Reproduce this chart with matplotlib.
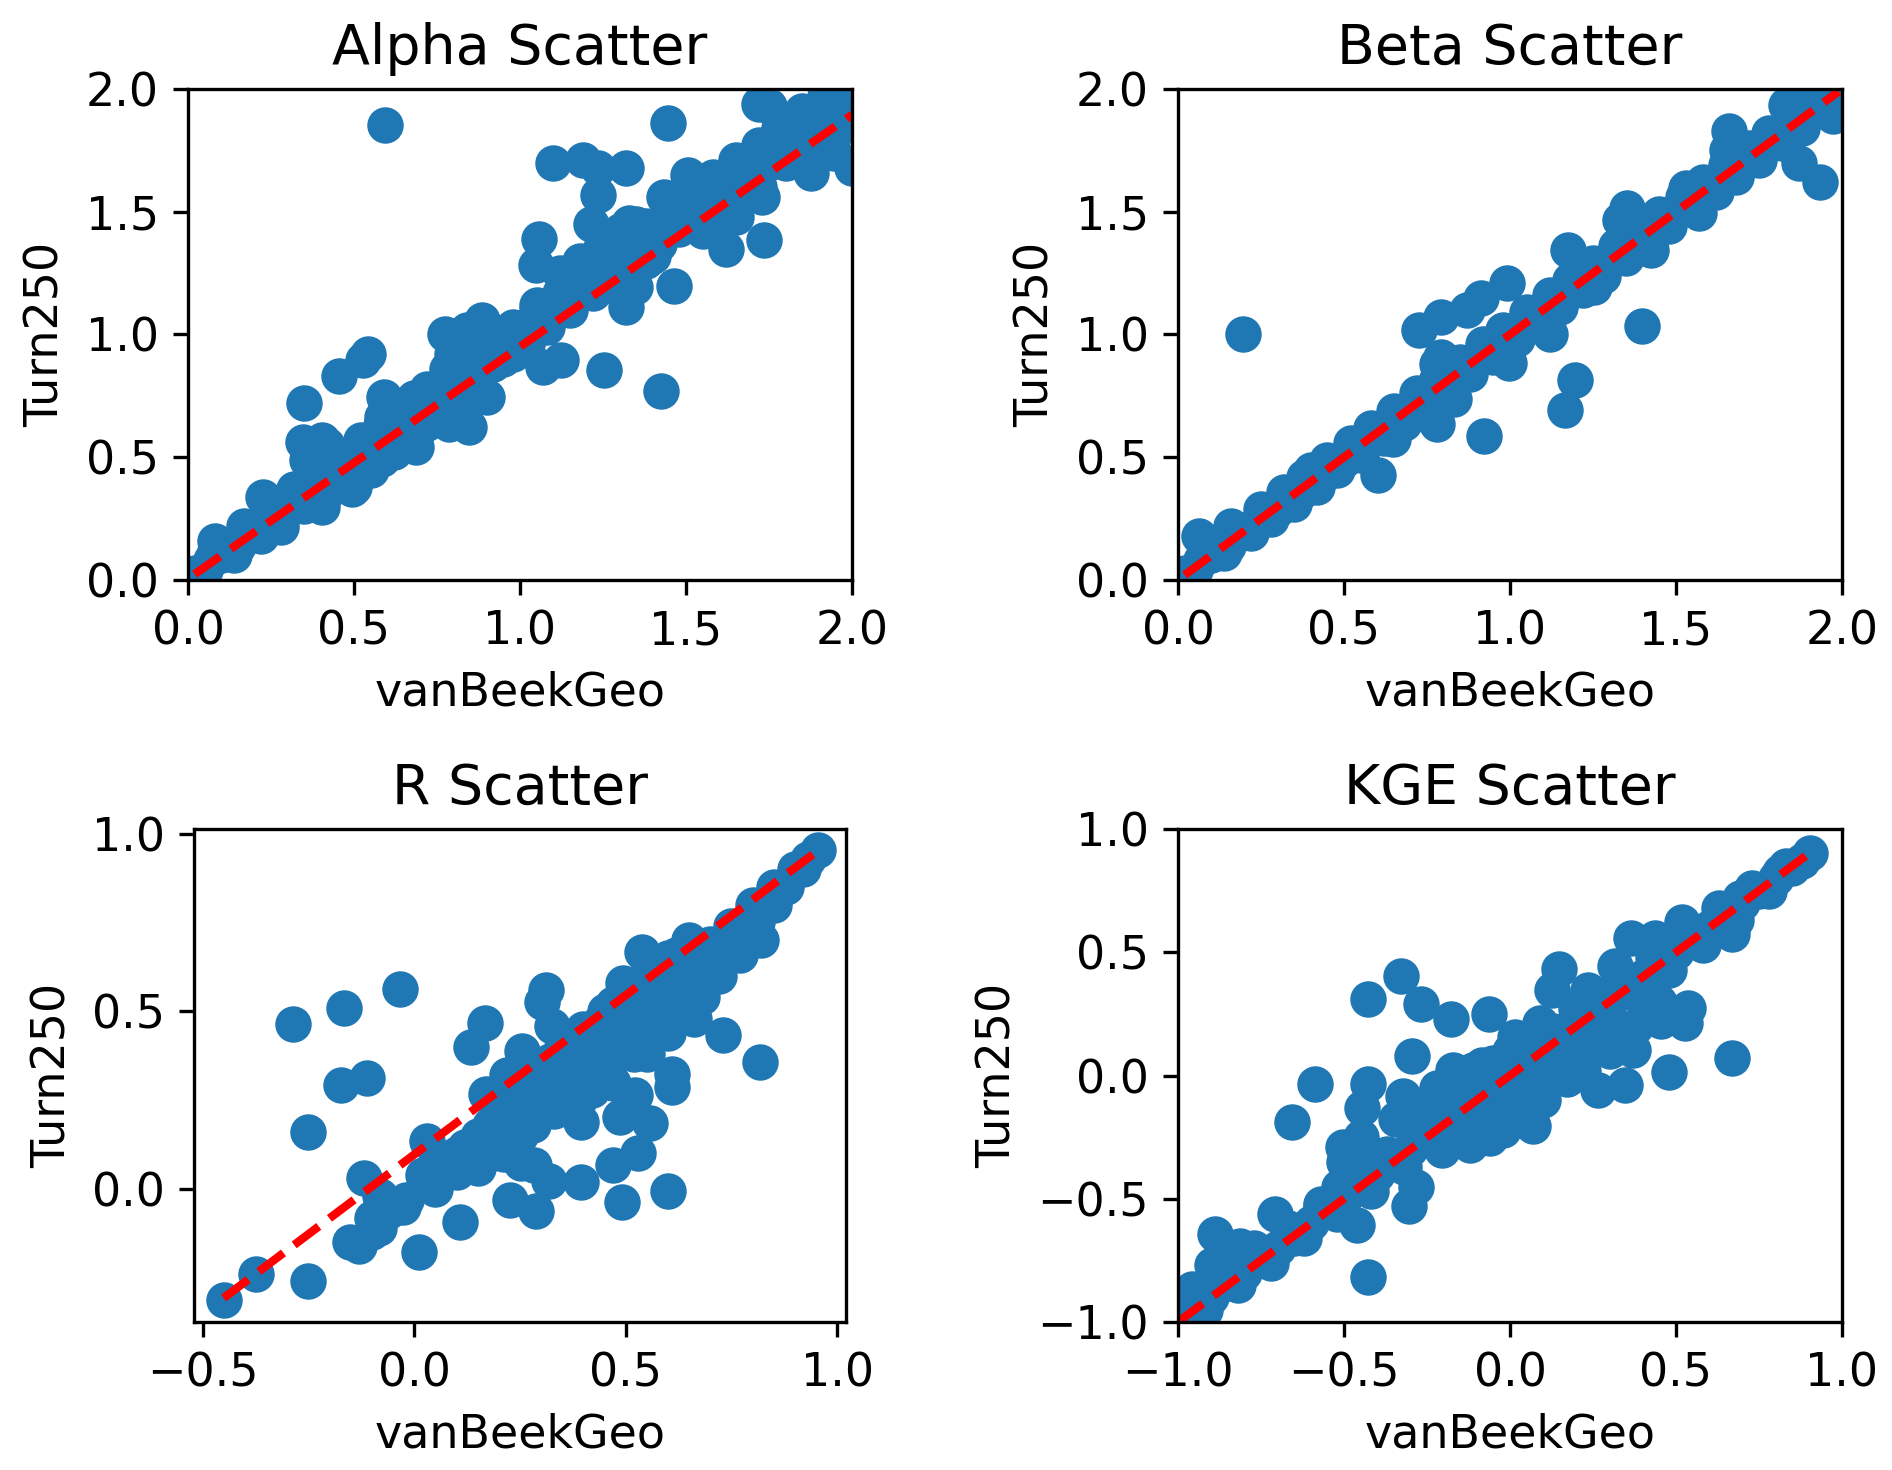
import numpy as np
import matplotlib
matplotlib.use("Agg")
import matplotlib.pyplot as plt

# ---- data ----
alpha_x = [0.02, 0.05, 0.07, 0.10, 0.12, 0.15, 0.18, 0.20, 0.23, 0.26, 0.30, 0.33, 0.37, 0.40, 0.43,
           0.46, 0.50, 0.53, 0.56, 0.60, 0.63, 0.66, 0.70, 0.73, 0.76, 0.80, 0.83, 0.86, 0.90, 0.93,
           0.96, 1.00, 1.03, 1.06, 1.10, 1.13, 1.16, 1.20, 1.23, 1.26, 1.30, 1.33, 1.36, 1.40, 1.43,
           1.46, 1.50, 1.53, 1.56, 1.60, 1.63, 1.66, 1.70, 1.73, 1.76, 1.80, 1.83, 1.86, 1.90, 1.93,
           1.96, 1.99,
           0.593, 1.446, 1.72, 1.75, 1.10, 1.19, 1.235, 1.32, 1.235, 1.215, 1.506, 1.433, 1.328, 1.736,
           1.62, 1.73, 1.875, 1.947, 2.0, 1.057, 1.047, 1.463, 1.32, 1.24, 1.347, 1.252, 1.426, 1.123,
           1.07, 0.775, 0.886, 0.794, 0.90, 0.846, 0.787, 0.543, 0.528, 0.454, 0.35, 0.345, 0.405,
           0.359, 0.493, 0.688, 0.589, 0.583, 0.583, 0.28, 0.227, 0.405, 0.082,
           0.82, 0.85, 0.88, 0.80, 0.78, 0.84, 0.92, 0.68, 0.72, 0.65, 0.70, 0.75, 0.55, 0.48, 0.50,
           1.05, 1.15, 1.20, 1.25, 1.30, 1.35, 1.38, 1.60, 1.55, 1.65, 1.70, 1.85, 1.90, 1.95, 1.28,
           0.38, 0.42, 0.62, 0.98, 1.02]
alpha_y = [0.03, 0.04, 0.08, 0.10, 0.13, 0.14, 0.19, 0.20, 0.22, 0.27, 0.29, 0.34, 0.36, 0.41, 0.42,
           0.47, 0.49, 0.54, 0.55, 0.61, 0.62, 0.67, 0.70, 0.74, 0.75, 0.81, 0.82, 0.87, 0.90, 0.94,
           0.95, 1.01, 1.02, 1.07, 1.10, 1.14, 1.15, 1.21, 1.22, 1.27, 1.30, 1.34, 1.35, 1.41, 1.42,
           1.47, 1.50, 1.54, 1.55, 1.61, 1.62, 1.67, 1.70, 1.74, 1.75, 1.81, 1.82, 1.87, 1.90, 1.94,
           1.95, 1.99,
           1.852, 1.861, 1.94, 1.93, 1.70, 1.71, 1.68, 1.68, 1.57, 1.45, 1.65, 1.56, 1.453, 1.385,
           1.35, 1.56, 1.657, 1.74, 1.68, 1.388, 1.283, 1.199, 1.113, 1.344, 1.195, 0.854, 0.769, 0.895,
           0.868, 1.004, 1.058, 0.922, 0.746, 0.623, 0.637, 0.922, 0.895, 0.83, 0.721, 0.562, 0.569,
           0.487, 0.371, 0.541, 0.746, 0.664, 0.494, 0.215, 0.337, 0.297, 0.16,
           0.95, 0.98, 1.00, 0.90, 0.86, 0.72, 0.96, 0.74, 0.78, 0.60, 0.62, 0.70, 0.45, 0.40, 0.38,
           1.12, 1.22, 1.25, 1.29, 1.36, 1.40, 1.30, 1.45, 1.42, 1.52, 1.62, 1.80, 1.85, 1.90, 1.32,
           0.50, 0.55, 0.70, 0.92, 0.96]
alpha_x2 = [0.04, 0.08, 0.14, 0.17, 0.22, 0.25, 0.28, 0.32, 0.35, 0.38, 0.42, 0.45, 0.48, 0.52, 0.55,
            0.58, 0.62, 0.65, 0.68, 0.72, 0.75, 0.78, 0.82, 0.85, 0.88, 0.92, 0.95, 0.98, 1.02, 1.05,
            1.08, 1.12, 1.15, 1.18, 1.22, 1.25, 1.28, 1.32, 1.35, 1.38, 1.42, 1.45, 1.48, 1.52, 1.55,
            1.58, 1.62, 1.65, 1.68, 1.72, 1.75, 1.78, 1.82, 1.85, 1.88, 1.92, 1.95, 1.98,
            0.80, 0.84, 0.88, 0.90, 0.86, 0.82, 0.92, 0.60, 0.62, 0.66, 0.70, 0.72, 0.38, 0.42, 0.40,
            1.12, 1.18, 1.25, 1.30, 1.35, 1.27, 1.33, 1.40, 1.55, 1.60, 1.65, 1.72, 1.80, 1.90, 1.95]
alpha_y2 = [0.00, 0.12, 0.10, 0.22, 0.18, 0.30, 0.24, 0.37, 0.30, 0.44, 0.36, 0.50, 0.44, 0.57, 0.50,
            0.63, 0.57, 0.70, 0.63, 0.77, 0.68, 0.82, 0.77, 0.90, 0.83, 0.97, 0.90, 1.03, 0.97, 1.10,
            1.03, 1.17, 1.10, 1.24, 1.17, 1.30, 1.24, 1.37, 1.30, 1.44, 1.37, 1.51, 1.43, 1.57, 1.50,
            1.64, 1.57, 1.71, 1.63, 1.77, 1.70, 1.84, 1.77, 1.91, 1.84, 1.97, 1.90, 2.02,
            0.98, 1.02, 0.96, 1.00, 0.93, 0.88, 0.88, 0.70, 0.52, 0.56, 0.66, 0.64, 0.50, 0.52, 0.46,
            1.25, 1.30, 1.38, 1.42, 1.45, 1.20, 1.28, 1.32, 1.45, 1.52, 1.48, 1.60, 1.70, 1.75, 1.82]

beta_x = [0.02, 0.05, 0.07, 0.10, 0.12, 0.15, 0.18, 0.20, 0.23, 0.26, 0.30, 0.33, 0.37, 0.40, 0.43,
          0.46, 0.50, 0.53, 0.56, 0.60, 0.63, 0.66, 0.70, 0.73, 0.76, 0.80, 0.83, 0.86, 0.90, 0.93,
          0.96, 1.00, 1.03, 1.06, 1.10, 1.13, 1.16, 1.20, 1.23, 1.26, 1.30, 1.33, 1.36, 1.40, 1.43,
          1.46, 1.50, 1.53, 1.56, 1.60, 1.63, 1.66, 1.70, 1.73, 1.76, 1.80, 1.83, 1.86, 1.90, 1.93,
          1.96, 1.99,
          0.197, 0.726, 0.792, 0.871, 0.913, 0.992, 1.174, 1.351, 1.33, 1.397, 1.197, 1.167, 0.921,
          0.601, 0.062, 1.66, 1.654, 1.934, 1.871, 1.832, 1.974, 0.792, 0.996, 1.121, 0.779, 0.832,
          0.647, 1.424, 1.568, 1.529, 1.253, 1.739, 0.13, 0.16, 0.40, 0.55, 0.78, 0.82, 1.85, 1.88]
beta_y = [0.03, 0.04, 0.08, 0.10, 0.13, 0.14, 0.19, 0.20, 0.22, 0.27, 0.29, 0.34, 0.36, 0.41, 0.42,
          0.47, 0.49, 0.54, 0.55, 0.61, 0.62, 0.67, 0.70, 0.74, 0.75, 0.81, 0.82, 0.87, 0.90, 0.94,
          0.95, 1.01, 1.02, 1.07, 1.10, 1.14, 1.15, 1.21, 1.22, 1.27, 1.30, 1.34, 1.35, 1.41, 1.42,
          1.47, 1.50, 1.54, 1.55, 1.61, 1.62, 1.67, 1.70, 1.74, 1.75, 1.81, 1.82, 1.87, 1.90, 1.94,
          1.95, 1.99,
          1.004, 1.018, 1.072, 1.10, 1.147, 1.208, 1.344, 1.514, 1.467, 1.034, 0.814, 0.694, 0.586,
          0.426, 0.181, 1.827, 1.752, 1.623, 1.698, 1.936, 1.888, 0.909, 0.882, 1.004, 0.637, 0.739,
          0.576, 1.344, 1.494, 1.596, 1.195, 1.737, 0.16, 0.22, 0.45, 0.52, 0.88, 0.84, 1.93, 1.92]
beta_x2 = [0.04, 0.08, 0.14, 0.17, 0.22, 0.25, 0.28, 0.32, 0.35, 0.38, 0.42, 0.45, 0.48, 0.52, 0.55,
           0.58, 0.62, 0.65, 0.68, 0.72, 0.75, 0.78, 0.82, 0.85, 0.88, 0.92, 0.95, 0.98, 1.02, 1.05,
           1.08, 1.12, 1.15, 1.18, 1.22, 1.25, 1.28, 1.32, 1.35, 1.38, 1.42, 1.45, 1.48, 1.52, 1.55,
           1.58, 1.62, 1.65, 1.68, 1.72, 1.75, 1.78, 1.82, 1.85, 1.88, 1.92, 1.95, 1.98]
beta_y2 = [0.00, 0.11, 0.11, 0.21, 0.19, 0.29, 0.25, 0.36, 0.31, 0.42, 0.38, 0.49, 0.45, 0.56, 0.51,
           0.62, 0.58, 0.69, 0.64, 0.76, 0.71, 0.82, 0.78, 0.89, 0.84, 0.96, 0.91, 1.02, 0.98, 1.09,
           1.04, 1.16, 1.11, 1.22, 1.18, 1.29, 1.24, 1.36, 1.31, 1.42, 1.38, 1.49, 1.44, 1.56, 1.51,
           1.62, 1.58, 1.69, 1.64, 1.76, 1.71, 1.82, 1.78, 1.89, 1.84, 1.96, 1.91, 1.97]

r_x = [0.02, 0.06, 0.10, 0.15, 0.20, 0.25, 0.30, 0.35, 0.40, 0.45, 0.50, 0.55, 0.60, 0.65, 0.70,
       0.75, 0.80, 0.85, 0.90, 0.93,
       0.40, 0.45, 0.50, 0.55, 0.60, 0.65, 0.70, 0.62, 0.52, 0.35, 0.30, 0.25, 0.20, 0.15, 0.10,
       0.05, -0.05, -0.10, -0.08, 0.75, 0.80, 0.85, 0.82, 0.45, 0.50, 0.55, 0.60, 0.65, 0.42, 0.38,
       -0.286, -0.167, -0.033, -0.174, -0.111, -0.251, -0.451, -0.375, -0.251, 0.011, 0.107, 0.226,
       0.289, 0.395, 0.491, 0.599, 0.47, 0.529, 0.318, 0.283, 0.817, 0.73, 0.662, 0.61, 0.61, 0.557,
       0.522, 0.487, 0.395, 0.388, 0.304, 0.252, 0.213, 0.135, 0.168, 0.311, 0.301, 0.539, 0.494,
       -0.118, -0.153, -0.083, -0.026, 0.030, 0.17, 0.22, 0.255, 0.325, 0.789, 0.81, 0.955]
r_y = [0.04, 0.06, 0.10, 0.15, 0.20, 0.26, 0.30, 0.35, 0.40, 0.45, 0.50, 0.55, 0.60, 0.64, 0.69,
       0.74, 0.80, 0.85, 0.90, 0.93,
       0.30, 0.35, 0.40, 0.45, 0.50, 0.55, 0.60, 0.62, 0.38, 0.28, 0.22, 0.15, 0.13, 0.10, 0.05,
       0.00, -0.05, -0.08, -0.02, 0.68, 0.75, 0.80, 0.70, 0.50, 0.55, 0.60, 0.65, 0.70, 0.33, 0.25,
       0.464, 0.509, 0.562, 0.292, 0.312, 0.160, -0.311, -0.238, -0.258, -0.177, -0.093, -0.029,
       -0.06, 0.02, -0.036, -0.005, 0.067, 0.103, 0.024, 0.067, 0.358, 0.434, 0.48, 0.324, 0.288, 0.187,
       0.266, 0.202, 0.189, 0.245, 0.216, 0.073, 0.099, 0.401, 0.467, 0.56, 0.526, 0.668, 0.579,
       0.033, -0.148, -0.108, -0.049, 0.136, 0.269, 0.321, 0.388, 0.46, 0.731, 0.751, 0.954]
r_x2 = [0.22, 0.25, 0.28, 0.30, 0.33, 0.35, 0.38, 0.40, 0.42, 0.45, 0.48, 0.50, 0.52, 0.55, 0.58,
        0.60, 0.63, 0.65, 0.68, 0.70, 0.72, 0.75, 0.78, 0.85, 0.88, 0.92, 0.30, 0.35, 0.40, 0.28,
        0.25, 0.18, 0.12, 0.08, 0.03, -0.02, -0.06, -0.10, -0.13, 0.15, 0.18, 0.20, 0.32, 0.37,
        0.44, 0.47, 0.53, 0.57, 0.62, 0.47, 0.55, 0.60, 0.65, 0.68, 0.72, 0.77, 0.80]
r_y2 = [0.12, 0.20, 0.18, 0.25, 0.22, 0.32, 0.30, 0.35, 0.28, 0.40, 0.38, 0.45, 0.42, 0.50, 0.48,
        0.55, 0.52, 0.60, 0.58, 0.63, 0.68, 0.70, 0.72, 0.82, 0.85, 0.90, 0.35, 0.40, 0.45, 0.30,
        0.30, 0.18, 0.12, 0.08, 0.02, -0.03, -0.06, -0.12, -0.16, 0.06, 0.10, 0.16, 0.36, 0.42,
        0.47, 0.52, 0.58, 0.62, 0.66, 0.30, 0.38, 0.44, 0.50, 0.54, 0.60, 0.66, 0.70]

kge_x = [-1.0, -0.95, -0.90, -0.85, -0.80, -0.75, -0.70, -0.65, -0.60, -0.55, -0.50, -0.45, -0.40,
         -0.35, -0.30, -0.25, -0.20, -0.15, -0.10, -0.05, 0.0, 0.05, 0.10, 0.15, 0.20, 0.25, 0.30,
         0.35, 0.40, 0.45, 0.50, 0.55, 0.60, 0.65, 0.70, 0.75, 0.80, 0.85,
         -0.20, -0.15, -0.10, -0.05, 0.0, 0.05, -0.25, 0.10, 0.05, 0.0, -0.05,
         -0.328, -0.429, -0.268, -0.177, -0.063, 0.149, -0.296, -0.588, -0.429, -0.446, -0.656,
         -0.323, -0.342, -0.502, -0.283, -0.305, -0.707, -0.89, -0.899, -0.812, -0.429, -0.958,
         -0.936, 0.669, 0.478, 0.537, 0.528, 0.455, 0.369, 0.345, 0.266, 0.171, 0.363, 0.436, 0.317,
         0.519, 0.669, 0.665, 0.693, 0.812, 0.903, 0.07, 0.098, 0.005, -0.059, -0.149, -0.204,
         -0.112, 0.015, 0.089, 0.198, 0.235, 0.126, -0.085, -0.171, -0.515, -0.57, -0.46, -0.424,
         -0.369, 0.125, 0.217]
kge_y = [-1.0, -0.93, -0.90, -0.84, -0.80, -0.74, -0.70, -0.66, -0.60, -0.54, -0.50, -0.44, -0.40,
         -0.35, -0.30, -0.25, -0.20, -0.16, -0.10, -0.05, 0.0, 0.05, 0.10, 0.15, 0.20, 0.25, 0.30,
         0.35, 0.40, 0.44, 0.50, 0.55, 0.60, 0.64, 0.70, 0.75, 0.80, 0.84,
         -0.10, -0.05, -0.20, -0.15, -0.10, -0.05, -0.15, 0.0, 0.12, 0.10, 0.05,
         0.405, 0.309, 0.29, 0.229, 0.248, 0.433, 0.08, -0.034, -0.034, -0.13, -0.187,
         -0.082, -0.177, -0.292, -0.454, -0.531, -0.563, -0.645, -0.769, -0.693, -0.817, -0.865,
         -0.96, 0.071, 0.013, 0.275, 0.214, 0.223, 0.103, -0.038, -0.057, -0.015, 0.557, 0.557, 0.443,
         0.624, 0.576, 0.653, 0.719, 0.824, 0.901, -0.206, -0.101, -0.13, -0.254, -0.254, -0.302,
         0.023, 0.156, 0.214, 0.271, 0.347, 0.347, 0.042, 0.023, -0.454, -0.531, -0.607, -0.397,
         -0.34, 0.032, 0.042]
kge_x2 = [-0.97, -0.92, -0.87, -0.82, -0.77, -0.72, -0.67, -0.62, -0.57, -0.52, -0.47, -0.42, -0.37,
          -0.32, -0.27, -0.22, -0.17, -0.12, -0.07, -0.02, 0.03, 0.08, 0.13, 0.18, 0.23, 0.28, 0.33,
          0.38, 0.43, 0.48, 0.53, 0.58, 0.63, 0.68, 0.73, 0.78, 0.83, 0.88,
          -0.22, -0.18, -0.12, -0.08, -0.02, 0.02, 0.06, -0.15, -0.10, 0.12, 0.15, 0.20, 0.25, 0.30,
          0.30, 0.22, 0.38, 0.42, 0.45, -0.45, -0.50, -0.40]
kge_y2 = [-0.90, -0.95, -0.80, -0.85, -0.70, -0.76, -0.62, -0.66, -0.52, -0.56, -0.42, -0.47, -0.32,
          -0.37, -0.22, -0.27, -0.12, -0.17, -0.02, -0.07, 0.08, 0.03, 0.18, 0.13, 0.28, 0.23, 0.38,
          0.33, 0.48, 0.43, 0.58, 0.53, 0.68, 0.63, 0.76, 0.75, 0.85, 0.87,
          -0.05, -0.22, -0.28, -0.20, -0.22, -0.15, -0.12, 0.00, 0.02, 0.05, 0.10, 0.08, 0.15, 0.20,
          0.10, 0.02, 0.20, 0.35, 0.30, -0.25, -0.35, -0.35]

titles = ["Alpha Scatter", "Beta Scatter", "R Scatter", "KGE Scatter"]
fit_slope = [0.945, 1.0, 0.895, 1.0]
fit_intercept = [0.005, 0.0, 0.098, 0.0]
xlims = [(0, 2), (0, 2), (-0.521, 1.021), (-1, 1)]
ylims = [(0, 2), (0, 2), (-0.373, 1.013), (-1, 1)]
xticks = [[0.0, 0.5, 1.0, 1.5, 2.0], [0.0, 0.5, 1.0, 1.5, 2.0],
          [-0.5, 0.0, 0.5, 1.0], [-1.0, -0.5, 0.0, 0.5, 1.0]]
yticks = [[0.0, 0.5, 1.0, 1.5, 2.0], [0.0, 0.5, 1.0, 1.5, 2.0],
          [0.0, 0.5, 1.0], [-1.0, -0.5, 0.0, 0.5, 1.0]]

xs = [alpha_x + alpha_x2, beta_x + beta_x2, r_x + r_x2, kge_x + kge_x2]
ys = [alpha_y + alpha_y2, beta_y + beta_y2, r_y + r_y2, kge_y + kge_y2]

plt.rcParams["font.size"] = 11.06
plt.rcParams["axes.titlesize"] = 13.3

fig = plt.figure(figsize=(1892 / 300, 1470 / 300), dpi=300)
W, H = 1892, 1470
rects = [(188, 89, 852, 580), (1178, 89, 1842, 580),
         (194, 829, 846, 1322), (1178, 829, 1842, 1322)]

for i in range(4):
    l, t, r, b = rects[i]
    ax = fig.add_axes([l / W, 1 - b / H, (r - l) / W, (b - t) / H])
    x = np.array(xs[i])
    y = np.array(ys[i])
    ax.scatter(x, y, s=60, color="#1f77b4")
    lx = np.array([x.min(), x.max()])
    ax.plot(lx, fit_slope[i] * lx + fit_intercept[i], "r--", lw=2)
    ax.set_xlim(*xlims[i])
    ax.set_ylim(*ylims[i])
    ax.set_xticks(xticks[i])
    ax.set_yticks(yticks[i])
    ax.set_title(titles[i])
    ax.set_xlabel("vanBeekGeo")
    ax.set_ylabel("Turn250")

fig.savefig("out.png", dpi=300)
